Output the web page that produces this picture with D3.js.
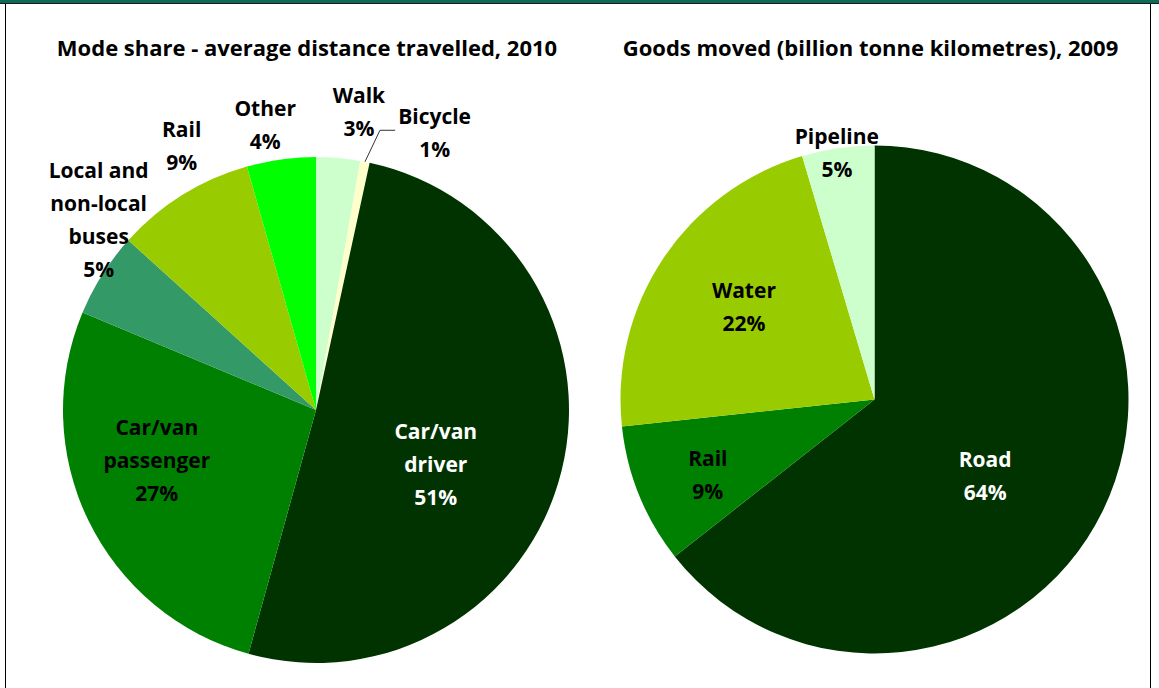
<!DOCTYPE html>
<html>
<head>
<meta charset="utf-8">
<script src="https://cdn.jsdelivr.net/npm/d3@7"></script>
<style>
  html, body { margin: 0; padding: 0; background: #ffffff; }
  svg { display: block; }
  text { font-family: "Open Sans", Lato, sans-serif; font-weight: 700; }
</style>
</head>
<body>
<svg id="chart" width="1159" height="688"></svg>
<script>
// Passenger travel: share of average distance travelled, 2010 (%)
const modeCategories = ["Walk", "Bicycle", "Car/van driver", "Car/van passenger",
  "Local and non-local buses", "Rail", "Other"];
const modeValues = [2.8, 0.6, 50.9, 27.0, 5.4, 8.9, 4.4];
const modeLabelLines = [["Walk"], ["Bicycle"], ["Car/van", "driver"], ["Car/van", "passenger"],
  ["Local and", "non-local", "buses"], ["Rail"], ["Other"]];
const modeColors = ["#CCFFCC", "#FFFFCC", "#003300", "#008000", "#339966", "#99CC00", "#00FF00"];

// Freight: goods moved (billion tonne kilometres), 2009, as % share
const goodsCategories = ["Road", "Rail", "Water", "Pipeline"];
const goodsValues = [64.4, 8.9, 22.1, 4.6];
const goodsLabelLines = [["Road"], ["Rail"], ["Water"], ["Pipeline"]];
const goodsColors = ["#003300", "#008000", "#99CC00", "#CCFFCC"];

const titles = ["Mode share - average distance travelled, 2010",
  "Goods moved (billion tonne kilometres), 2009"];

// Label placement: [angle in degrees clockwise from 12 o'clock, distance as fraction of radius]
const modeLabelPolar = [[8.2, 1.19], [23.2, 1.19], [114.4, 0.52], [252.4, 0.66],
  [311.1, 1.14], [333, 1.17], [349.9, 1.145]];
const goodsLabelPolar = [[124.7, 0.53], [245.7, 0.72], [305.3, 0.63], [351.3, 0.98]];

const W = 1159, H = 688;
const svg = d3.select("#chart");

// frame
svg.append("rect").attr("x", 0).attr("y", 0).attr("width", W).attr("height", 3).attr("fill", "#0b6b57");
svg.append("line").attr("x1", 0).attr("x2", W).attr("y1", 3.5).attr("y2", 3.5)
  .attr("stroke", "#1a1a1a").attr("stroke-width", 1);
svg.append("line").attr("x1", 5.5).attr("x2", 5.5).attr("y1", 4).attr("y2", H)
  .attr("stroke", "#000").attr("stroke-width", 1);
svg.append("line").attr("x1", 1150.5).attr("x2", 1150.5).attr("y1", 4).attr("y2", H)
  .attr("stroke", "#000").attr("stroke-width", 1);

const LINE = 33;
const FONT = 21;
const TITLE_FONT = 22;

function drawPie(opts) {
  const { cx, cy, R, cats, values, colors, lines, polar, title, titleX, textColors, leader } = opts;
  const g = svg.append("g");

  g.append("text").attr("x", titleX).attr("y", 48).attr("dy", "0.35em")
    .attr("text-anchor", "middle").attr("font-size", TITLE_FONT).attr("fill", "#000").text(title);

  const pie = d3.pie().sort(null).value(d => d.v);
  const arcs = pie(cats.map((c, i) => ({ c, v: values[i], i })));
  const arc = d3.arc().innerRadius(0).outerRadius(R);

  const pg = g.append("g").attr("transform", `translate(${cx},${cy})`);
  pg.selectAll("path").data(arcs).join("path")
    .attr("d", arc)
    .attr("fill", d => colors[d.data.i]);

  arcs.forEach(a => {
    const i = a.data.i;
    const [deg, f] = polar[i];
    const t = deg * Math.PI / 180;
    const lx = cx + f * R * Math.sin(t), ly = cy - f * R * Math.cos(t);
    const all = lines[i].concat([Math.round(a.data.v) + "%"]);
    const txt = g.append("text").attr("text-anchor", "middle").attr("font-size", FONT)
      .attr("fill", textColors && textColors[i] ? textColors[i] : "#000");
    all.forEach((s, k) => {
      txt.append("tspan").attr("x", lx)
        .attr("y", ly + (k - (all.length - 1) / 2) * LINE)
        .attr("dy", "0.35em").text(s);
    });
    if (leader !== undefined && leader === i) {
      // connector from the thin slice to its label
      const mid = (a.startAngle + a.endAngle) / 2;
      const p0 = [cx + R * Math.sin(mid), cy - R * Math.cos(mid)];
      const bb = txt.node().getBBox();
      const yL = ly - 3;
      const elbow = [p0[0] + 15, yL];
      const end = [bb.x - 3, yL];
      g.append("polyline").attr("points", [p0, elbow, end].map(p => p.join(",")).join(" "))
        .attr("fill", "none").attr("stroke", "#333").attr("stroke-width", 1);
    }
  });
}

drawPie({
  cx: 316, cy: 410, R: 253, cats: modeCategories, values: modeValues, colors: modeColors,
  lines: modeLabelLines, polar: modeLabelPolar, title: titles[0], titleX: 307,
  textColors: [null, null, "#ffffff", null, null, null, null], leader: 1
});
drawPie({
  cx: 874.5, cy: 399.5, R: 254, cats: goodsCategories, values: goodsValues, colors: goodsColors,
  lines: goodsLabelLines, polar: goodsLabelPolar, title: titles[1], titleX: 870.5,
  textColors: ["#ffffff", null, null, null]
});
</script>
</body>
</html>
